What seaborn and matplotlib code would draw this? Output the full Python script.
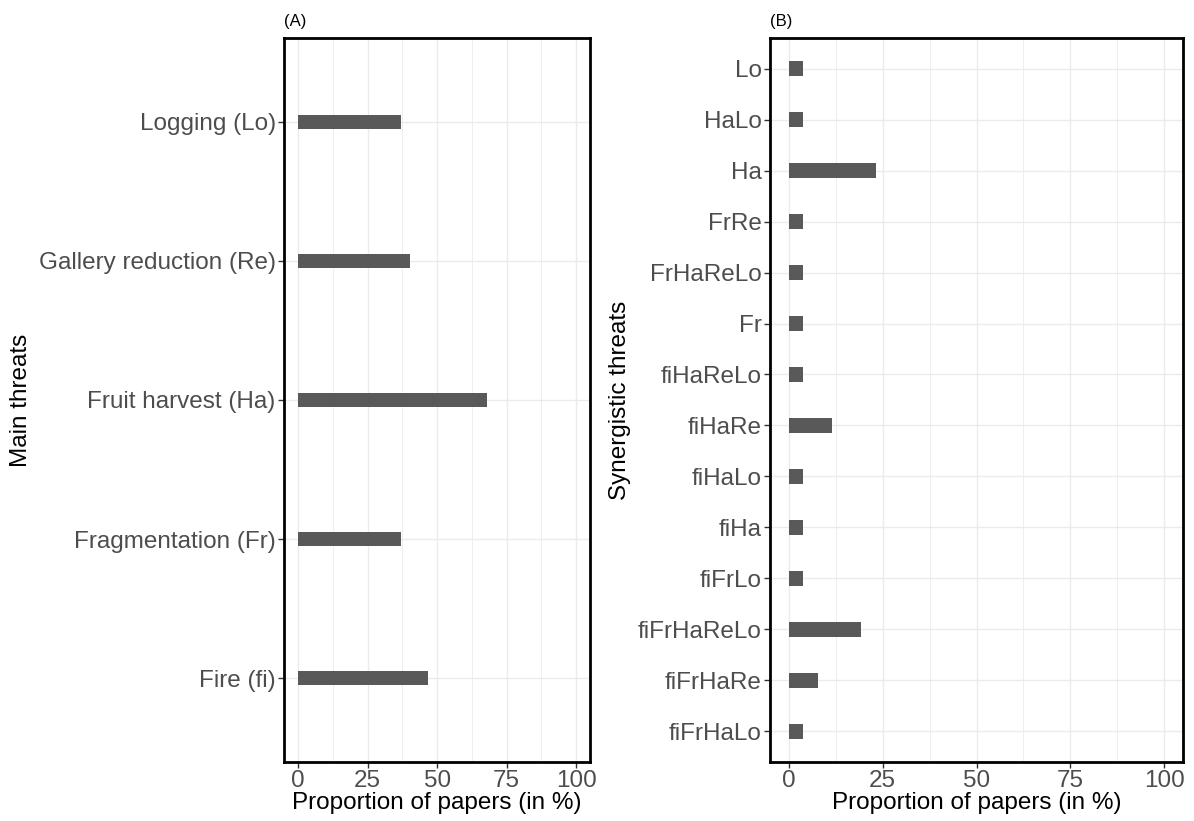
import pandas as pd
import seaborn as sns
import matplotlib.pyplot as plt
from matplotlib.ticker import MultipleLocator

# -----------------------------------
# Data
# -----------------------------------

main_threats = [
    "Logging (Lo)",
    "Gallery reduction (Re)",
    "Fruit harvest (Ha)",
    "Fragmentation (Fr)",
    "Fire (fi)",
]
main_pct = [37.2, 40.2, 68.0, 37.2, 46.7]

synergy_threats = [
    "Lo", "HaLo", "Ha", "FrRe", "FrHaReLo", "Fr", "fiHaReLo",
    "fiHaRe", "fiHaLo", "fiHa", "fiFrLo", "fiFrHaReLo", "fiFrHaRe", "fiFrHaLo",
]
synergy_pct = [3.85, 3.85, 23.1, 3.85, 3.85, 3.85, 3.85,
               11.5, 3.85, 3.85, 3.85, 19.2, 7.7, 3.85]

x_ticks = [0, 25, 50, 75, 100]

# -----------------------------------
# Style
# -----------------------------------

sns.set_theme(style="white")
plt.rcParams["font.family"] = ["Liberation Sans", "DejaVu Sans"]

bar_color = "#595959"
grid_color = "#EBEBEB"

fig = plt.figure(figsize=(11.94, 8.21), dpi=100)
ax_a = fig.add_axes([0.2379, 0.0719, 0.2563, 0.8818])
ax_b = fig.add_axes([0.6449, 0.0719, 0.3459, 0.8818])

df_a = pd.DataFrame({"threat": main_threats, "pct": main_pct})
df_b = pd.DataFrame({"threat": synergy_threats, "pct": synergy_pct})

sns.barplot(data=df_a, x="pct", y="threat", order=main_threats,
            color=bar_color, saturation=1, width=0.1, ax=ax_a)
sns.barplot(data=df_b, x="pct", y="threat", order=synergy_threats,
            color=bar_color, saturation=1, width=0.29, ax=ax_b)


def style_panel(ax, n, ylabel, tag):
    for p in ax.patches:
        p.set_edgecolor("none")
    ax.set_xlim(-5, 105)
    ax.set_ylim(n - 1 + 0.6, -0.6)
    ax.set_xticks(x_ticks)
    ax.xaxis.set_minor_locator(MultipleLocator(12.5))
    ax.grid(True, which="major", color=grid_color, linewidth=1)
    ax.grid(True, which="minor", axis="x", color=grid_color, linewidth=0.6)
    ax.set_axisbelow(True)
    for spine in ax.spines.values():
        spine.set_visible(True)
        spine.set_color("black")
        spine.set_linewidth(2)
    ax.tick_params(axis="both", which="major", direction="out", length=4,
                   width=1, color="#333333", labelsize=17.5,
                   labelcolor="#4D4D4D", pad=2, left=True, bottom=True)
    ax.tick_params(axis="x", which="minor", length=0)
    ax.set_xlabel("Proportion of papers (in %)", fontsize=17.5,
                  color="black", labelpad=0)
    ax.set_ylabel(ylabel, fontsize=17.5, color="black", labelpad=5)
    ax.text(0.0, 1.012, tag, transform=ax.transAxes, fontsize=12,
            ha="left", va="bottom", color="black")


style_panel(ax_a, len(main_threats), "Main threats", "(A)")
style_panel(ax_b, len(synergy_threats), "Synergistic threats", "(B)")

fig.savefig("out.png", dpi=100, facecolor="white")
